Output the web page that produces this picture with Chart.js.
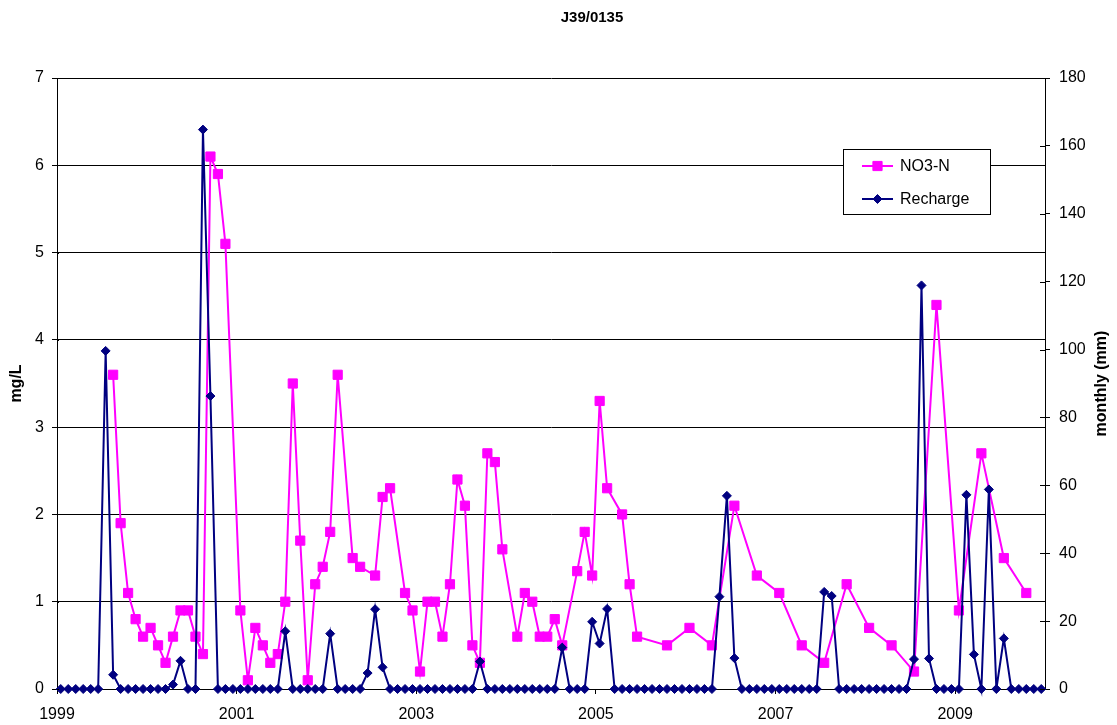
<!DOCTYPE html>
<html>
<head>
<meta charset="utf-8">
<title>J39/0135</title>
<script src="https://cdn.jsdelivr.net/npm/chart.js@4.4.1/dist/chart.umd.min.js"></script>
<style>
  html, body { margin: 0; padding: 0; background: #fff; }
  canvas { display: block; }
</style>
</head>
<body>
<canvas id="chart" width="1117" height="725"></canvas>
<script>
const chartTitle = 'J39/0135';
const leftAxisTitle = 'mg/L';
const rightAxisTitle = 'monthly (mm)';
const yearTicks = [1999, 2001, 2003, 2005, 2007, 2009];

// NO3-N samples: sampling month and concentration (mg/L)
const no3Months = [
  '1999-08', '1999-09', '1999-10', '1999-11', '1999-12',
  '2000-01', '2000-02', '2000-03', '2000-04', '2000-05', '2000-06', '2000-07', '2000-08', '2000-09', '2000-10', '2000-11',
  '2001-01', '2001-02', '2001-03', '2001-04', '2001-05', '2001-06', '2001-07', '2001-08', '2001-09', '2001-10', '2001-11', '2001-12',
  '2002-01', '2002-02', '2002-04', '2002-05', '2002-07', '2002-08', '2002-09', '2002-11', '2002-12',
  '2003-01', '2003-02', '2003-03', '2003-04', '2003-05', '2003-06', '2003-07', '2003-08', '2003-09', '2003-10', '2003-11', '2003-12',
  '2004-02', '2004-03', '2004-04', '2004-05', '2004-06', '2004-07', '2004-08', '2004-10', '2004-11', '2004-12',
  '2005-01', '2005-02', '2005-04', '2005-05', '2005-06', '2005-10',
  '2006-01', '2006-04', '2006-07', '2006-10',
  '2007-01', '2007-04', '2007-07', '2007-10',
  '2008-01', '2008-04', '2008-07', '2008-10',
  '2009-01', '2009-04', '2009-07', '2009-10'
];
const no3Values = [
  3.6, 1.9, 1.1, 0.8, 0.6,
  0.7, 0.5, 0.3, 0.6, 0.9, 0.9, 0.6, 0.4, 6.1, 5.9, 5.1,
  0.9, 0.1, 0.7, 0.5, 0.3, 0.4, 1.0, 3.5, 1.7, 0.1, 1.2, 1.4,
  1.8, 3.6, 1.5, 1.4, 1.3, 2.2, 2.3, 1.1, 0.9,
  0.2, 1.0, 1.0, 0.6, 1.2, 2.4, 2.1, 0.5, 0.3, 2.7, 2.6, 1.6,
  0.6, 1.1, 1.0, 0.6, 0.6, 0.8, 0.5, 1.35, 1.8, 1.3,
  3.3, 2.3, 2.0, 1.2, 0.6, 0.5,
  0.7, 0.5, 2.1, 1.3,
  1.1, 0.5, 0.3, 1.2,
  0.7, 0.5, 0.2, 4.4,
  0.9, 2.7, 1.5, 1.1
];

// Monthly recharge (mm), one row per year, January to December
const rechargeFirstMonth = '1999-01';
const rechargeValues = [
  0, 0, 0, 0, 0, 0, 99.6, 4.2, 0, 0, 0, 0,          // 1999
  0, 0, 0, 1.3, 8.3, 0, 0, 164.8, 86.3, 0, 0, 0,    // 2000
  0, 0, 0, 0, 0, 0, 17.0, 0, 0, 0, 0, 0,            // 2001
  16.3, 0, 0, 0, 0, 4.7, 23.5, 6.4, 0, 0, 0, 0,     // 2002
  0, 0, 0, 0, 0, 0, 0, 0, 8.1, 0, 0, 0,             // 2003
  0, 0, 0, 0, 0, 0, 0, 12.2, 0, 0, 0, 19.8,         // 2004
  13.4, 23.6, 0, 0, 0, 0, 0, 0, 0, 0, 0, 0,         // 2005
  0, 0, 0, 0, 27.2, 56.9, 9.1, 0, 0, 0, 0, 0,       // 2006
  0, 0, 0, 0, 0, 0, 28.6, 27.4, 0, 0, 0, 0,         // 2007
  0, 0, 0, 0, 0, 0, 8.8, 118.9, 9.0, 0, 0, 0,       // 2008
  0, 57.2, 10.2, 0, 58.8, 0, 14.9, 0, 0, 0, 0, 0    // 2009
];

// Mid-month position as a decimal year
function monthToYear(ym) {
  const [y, m] = ym.split('-').map(Number);
  return y + (m - 0.5) / 12;
}
function shiftMonth(ym, n) {
  const [y, m] = ym.split('-').map(Number);
  const t = y * 12 + (m - 1) + n;
  return Math.floor(t / 12) + '-' + String(t % 12 + 1).padStart(2, '0');
}

const no3Points = no3Months.map((d, i) => ({ x: monthToYear(d), y: no3Values[i] }));
const rechargePoints = rechargeValues.map((v, i) => ({ x: monthToYear(shiftMonth(rechargeFirstMonth, i)), y: v }));

const FONT = "'Liberation Sans', Arial, sans-serif";

// Chart heading and axis titles (both axis titles read bottom-to-top)
const titlesPlugin = {
  id: 'titles',
  afterDraw(chart) {
    const { ctx, chartArea } = chart;
    const midY = (chartArea.top + chartArea.bottom) / 2;
    ctx.save();
    ctx.fillStyle = '#000';
    ctx.textAlign = 'center';
    ctx.textBaseline = 'middle';
    ctx.font = 'bold 15px ' + FONT;
    ctx.fillText(chartTitle, 592, 18);
    ctx.font = 'bold 16px ' + FONT;
    [[17, leftAxisTitle], [1102, rightAxisTitle]].forEach(([x, txt]) => {
      ctx.save();
      ctx.translate(x, midY);
      ctx.rotate(-Math.PI / 2);
      ctx.fillText(txt, 0, 0);
      ctx.restore();
    });
    ctx.restore();
  }
};

// Small tick marks that cross the axis lines slightly into the plot
const innerTicksPlugin = {
  id: 'innerTicks',
  afterDatasetsDraw(chart) {
    const { ctx, chartArea, scales } = chart;
    ctx.save();
    ctx.strokeStyle = '#000';
    ctx.lineWidth = 1;
    ctx.beginPath();
    scales.y.ticks.forEach(t => {
      const py = Math.round(scales.y.getPixelForValue(t.value)) + 0.5;
      ctx.moveTo(chartArea.left, py); ctx.lineTo(chartArea.left + 2, py);
    });
    scales.y1.ticks.forEach(t => {
      const py = Math.round(scales.y1.getPixelForValue(t.value)) + 0.5;
      ctx.moveTo(chartArea.right - 5, py); ctx.lineTo(chartArea.right, py);
    });
    ctx.stroke();
    ctx.restore();
  }
};

// Boxed legend placed inside the plot area
const boxLegendPlugin = {
  id: 'boxLegend',
  afterDraw(chart, args, opts) {
    const { ctx } = chart;
    ctx.save();
    ctx.fillStyle = '#fff';
    ctx.fillRect(opts.left, opts.top, opts.width, opts.height);
    ctx.strokeStyle = '#000';
    ctx.lineWidth = 1;
    ctx.strokeRect(opts.left + 0.5, opts.top + 0.5, opts.width, opts.height);
    ctx.font = '16px ' + FONT;
    ctx.textBaseline = 'middle';
    ctx.textAlign = 'left';
    opts.order.forEach((idx, row) => {
      const ds = chart.data.datasets[idx];
      const y = opts.top + opts.firstRow + row * opts.rowGap;
      const x0 = opts.left + 19, x1 = opts.left + 50;
      ctx.strokeStyle = ds.borderColor;
      ctx.lineWidth = ds.borderWidth;
      ctx.beginPath();
      ctx.moveTo(x0, y);
      ctx.lineTo(x1, y);
      ctx.stroke();
      ctx.fillStyle = ds.pointBackgroundColor;
      ctx.strokeStyle = ds.pointBorderColor;
      ctx.lineWidth = 1;
      Chart.helpers.drawPoint(ctx, { pointStyle: ds.pointStyle, radius: ds.pointRadius, borderWidth: 1, rotation: 0 }, (x0 + x1) / 2, y);
      ctx.fillStyle = '#000';
      ctx.fillText(ds.label, opts.left + 57, y + 1);
    });
    ctx.restore();
  }
};

const tickFont = { family: FONT, size: 16 };

new Chart(document.getElementById('chart'), {
  type: 'line',
  data: {
    datasets: [
      {
        label: 'NO3-N',
        data: no3Points,
        yAxisID: 'y',
        borderColor: '#FF00FF',
        backgroundColor: '#FF00FF',
        pointBackgroundColor: '#FF00FF',
        pointBorderColor: '#FF00FF',
        borderWidth: 2,
        pointStyle: 'rect',
        pointRadius: 6.5,
        pointBorderWidth: 1,
        tension: 0,
        clip: false,
        order: 2
      },
      {
        label: 'Recharge',
        data: rechargePoints,
        yAxisID: 'y1',
        borderColor: '#000080',
        backgroundColor: '#000080',
        pointBackgroundColor: '#000080',
        pointBorderColor: '#000080',
        borderWidth: 2,
        pointStyle: 'rectRot',
        pointRadius: 4.5,
        pointBorderWidth: 1,
        tension: 0,
        clip: false,
        order: 1
      }
    ]
  },
  options: {
    responsive: false,
    animation: false,
    devicePixelRatio: 1,
    layout: { padding: { top: 78, left: 0, right: 0, bottom: 0 } },
    plugins: {
      legend: { display: false },
      tooltip: { enabled: false },
      title: { display: false },
      boxLegend: { left: 843, top: 149, width: 147, height: 65, firstRow: 17, rowGap: 33, order: [0, 1] }
    },
    scales: {
      x: {
        type: 'linear',
        min: 1999,
        max: 2010,
        afterBuildTicks: (scale) => { scale.ticks = yearTicks.map(v => ({ value: v })); },
        afterFit: (scale) => { scale.height = 36; },
        ticks: {
          color: '#000',
          font: tickFont,
          padding: 11,
          maxRotation: 0,
          autoSkip: false,
          callback: (v) => String(v)
        },
        grid: { drawOnChartArea: false, drawTicks: true, tickLength: 5, color: '#000' },
        border: { display: true, color: '#000', width: 1 }
      },
      y: {
        position: 'left',
        min: 0,
        max: 7,
        afterFit: (scale) => { scale.width = 57; },
        ticks: { stepSize: 1, color: '#000', font: tickFont, padding: 8 },
        grid: { color: '#000', lineWidth: 1, drawTicks: true, tickLength: 5 },
        border: { display: true, color: '#000', width: 1 }
      },
      y1: {
        position: 'right',
        min: 0,
        max: 180,
        afterFit: (scale) => { scale.width = 72; },
        ticks: { stepSize: 20, color: '#000', font: tickFont, padding: 9 },
        grid: { drawOnChartArea: false, color: '#000', drawTicks: true, tickLength: 5 },
        border: { display: true, color: '#000', width: 1 }
      }
    }
  },
  plugins: [titlesPlugin, innerTicksPlugin, boxLegendPlugin]
});
</script>
</body>
</html>
